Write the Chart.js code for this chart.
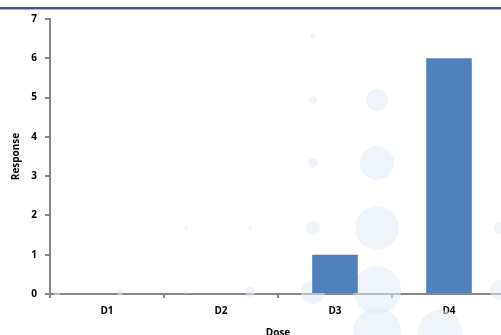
<!DOCTYPE html>
<html>
<head>
<meta charset="utf-8">
<script src="https://cdn.jsdelivr.net/npm/chart.js@4"></script>
<style>
  html, body { margin: 0; padding: 0; background: #fff; overflow: hidden; }
  #wrap { position: relative; width: 506px; height: 335px; }
  #topline { position: absolute; left: 0; top: 7px; width: 501px; height: 2px; background: #3a5c8c; border-bottom: 1px solid #9db5d6; z-index: 2; }
</style>
</head>
<body>
<div id="wrap">
  <div id="topline"></div>
  <canvas id="chart" width="506" height="335"></canvas>
</div>
<script>
// Dose-response counts
var doses = ['D1', 'D2', 'D3', 'D4'];
var responses = [0, 0, 1, 6];
var yTicks = [0, 1, 2, 3, 4, 5, 6, 7];

// faint decorative dots in the background (x, y, r)
var dots = [
    [57, 293, 3], [120, 292, 3], [186, 292, 2], [186, 228, 2], [250, 228, 2], [250, 292, 5],
    [313, 36, 3], [313, 100, 4], [313, 163, 5], [313, 228, 7], [313, 292, 12],
    [377, 100, 11], [377, 163, 17], [377, 228, 22], [377, 290, 24], [377, 332, 24],
    [440, 332, 22], [500, 228, 6], [500, 290, 10]
];

var bgDots = {
    id: 'bgDots',
    beforeDatasetsDraw: function (chart) {
        var c = chart.ctx;
        c.save();
        c.fillStyle = 'rgba(226, 234, 246, 0.55)';
        dots.forEach(function (d) {
            c.beginPath();
            c.arc(d[0], d[1], d[2], 0, Math.PI * 2);
            c.fill();
        });
        c.restore();
    }
};

var axisColor = '#878787';
var font = { family: '"Open Sans", "DejaVu Sans", sans-serif', size: 10, weight: 'bold' };

new Chart(document.getElementById('chart'), {
    type: 'bar',
    data: {
        labels: doses,
        datasets: [{
            data: responses,
            backgroundColor: '#4f81bd',
            borderWidth: 0,
            barPercentage: 0.4,
            categoryPercentage: 1
        }]
    },
    options: {
        responsive: false,
        animation: false,
        layout: { padding: { top: 19, left: 0, right: 0, bottom: 0 } },
        plugins: { legend: { display: false }, tooltip: { enabled: false } },
        scales: {
            y: {
                min: 0, max: 7,
                afterBuildTicks: function (s) { s.ticks = yTicks.map(function (v) { return { value: v }; }); },
                afterFit: function (s) { s.width = 50; },
                border: { color: axisColor, width: 2 },
                grid: { drawOnChartArea: false, color: axisColor, tickLength: 5, lineWidth: 2 },
                ticks: { color: '#000', font: font, padding: 8 },
                title: { display: true, text: 'Response', color: '#000', font: font, padding: { top: 10, bottom: 0 } }
            },
            x: {
                afterFit: function (s) { s.height = 41; },
                border: { color: axisColor, width: 2 },
                grid: { drawOnChartArea: false, color: axisColor, tickLength: 4, lineWidth: 2 },
                ticks: { color: '#000', font: font, padding: 7 },
                title: { display: true, text: 'Dose', color: '#000', font: font, padding: { top: 5, bottom: -4 } }
            }
        }
    },
    plugins: [bgDots]
});
</script>
</body>
</html>
